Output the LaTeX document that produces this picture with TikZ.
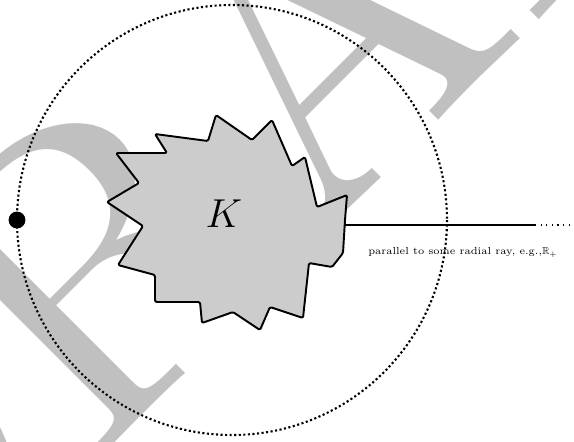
\documentclass[tikz,border=0pt]{standalone}
\usepackage{fix-cm}
\usepackage{fontspec}
\usepackage{amsmath}
\usepackage{amsfonts}
\usepackage{tikz}
\usetikzlibrary{positioning, calc}
\newfontfamily\wmfont{lmroman10-regular.otf}
\definecolor{wm_gray}{RGB}{192, 192, 192}
\definecolor{body_gray}{RGB}{204, 204, 204}

\begin{document}
\begin{tikzpicture}[
        x=0.02cm, y=-0.02cm,
        every node/.style={inner sep=2pt},
        bodyline/.style={line width=1.1pt, line join=round, rounded corners=0.8pt},
        bigdots/.style={line width=1.2pt, dash pattern=on 1.2pt off 1.4pt},
        smalldots/.style={line width=0.6pt, dash pattern=on 0.6pt off 2.6pt}
    ]
        % -------- Cornice --------
        \useasboundingbox (0, 0) rectangle (574, 441);
        \clip (0, 0) rectangle (574, 441);

        % Scritta di sfondo
        \node[rotate=45, text=wm_gray, inner sep=0pt,
              font=\wmfont\fontsize{239}{239}\selectfont] (wm) at (297, 56) {DRAFT};

        % -------- Cerchio punteggiato --------
        \draw[bigdots] (232, 220) circle (215);
        \node[circle, fill=black, minimum size=9.6pt, inner sep=0pt] (pt) at (17, 220) {};

        % -------- Corpo K --------
        \filldraw[bodyline, fill=body_gray]
            (116, 153) -- (167, 153) -- (155, 134) -- (208, 141) -- (216, 115)
            -- (252, 140) -- (272, 120) -- (292, 166) -- (305, 157) -- (317, 207)
            -- (347, 195) -- (345, 220) -- (343, 253) -- (332, 267) -- (309, 263)
            -- (303, 318) -- (270, 307) -- (260, 330) -- (233, 312) -- (202, 323)
            -- (200, 302) -- (155, 302) -- (155, 275) -- (118, 265) -- (143, 226)
            -- (107, 202) -- (139, 183) -- cycle;
        \node[font=\fontsize{23}{28}\selectfont] (kname) at (224, 214) {$K$};

        % -------- Raggio --------
        \coordinate (kright) at (345, 225);
        \coordinate (rayend) at (535, 225);
        \coordinate (rayfar) at (576, 225);
        \draw[line width=1.3pt] (kright) -- (rayend);
        \draw[smalldots] (rayend) -- (rayfar);
        \node[font=\fontsize{5.8}{7}\selectfont] (raylab) at (463, 253) {parallel to some radial ray, e.g.,$\mathbb{R}_+$};

    \end{tikzpicture}
\end{document}
